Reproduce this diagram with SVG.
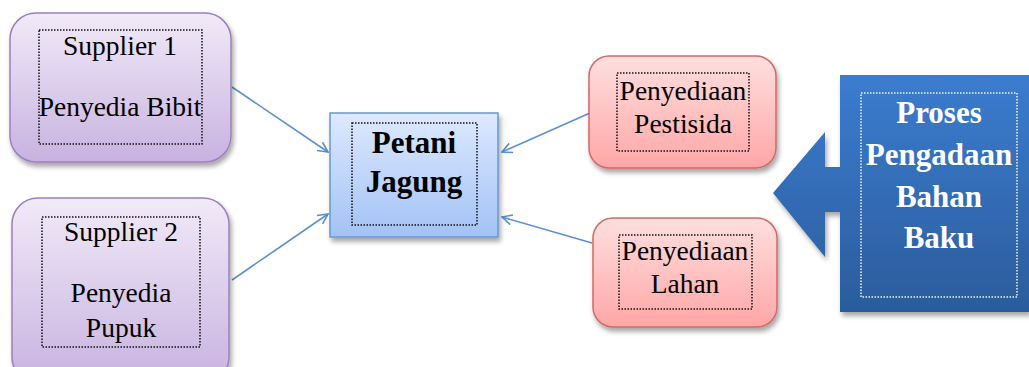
<svg xmlns="http://www.w3.org/2000/svg" width="1029" height="367" viewBox="0 0 1029 367">
<style>
.t{font-family:"Liberation Serif","Times New Roman",serif;font-size:27.5px;fill:#000;text-anchor:middle}
.b{font-family:"Liberation Serif","Times New Roman",serif;font-weight:bold;font-size:31px;text-anchor:middle}
.dot{fill:none;stroke:#111;stroke-width:1.5;stroke-dasharray:1.5 1.5}
.dotw{fill:none;stroke:#f4f4f4;stroke-width:1.5;stroke-dasharray:1.5 1.5}
.con{stroke:#5b8fd0;stroke-width:1.6;fill:none}
</style>
<defs>
<linearGradient id="gp" x1="0" y1="0" x2="0" y2="1"><stop offset="0" stop-color="#f1eaf8"/><stop offset="1" stop-color="#c8b2e0"/></linearGradient>
<linearGradient id="gb" x1="0" y1="0" x2="0" y2="1"><stop offset="0" stop-color="#dde9ff"/><stop offset="1" stop-color="#a3c2f5"/></linearGradient>
<linearGradient id="gr" x1="0" y1="0" x2="0" y2="1"><stop offset="0" stop-color="#ffdfdf"/><stop offset="1" stop-color="#ffa6a6"/></linearGradient>
<linearGradient id="gd" x1="0" y1="0" x2="0" y2="1"><stop offset="0" stop-color="#3b7ccf"/><stop offset="1" stop-color="#2b5c9c"/></linearGradient>
<filter id="sh" x="-10%" y="-10%" width="130%" height="130%"><feGaussianBlur in="SourceAlpha" stdDeviation="2.5"/><feOffset dx="2" dy="4"/><feComponentTransfer><feFuncA type="linear" slope="0.35"/></feComponentTransfer><feMerge><feMergeNode/><feMergeNode in="SourceGraphic"/></feMerge></filter>
<marker id="ah" viewBox="0 0 12 12" refX="11" refY="6" markerWidth="12" markerHeight="12" markerUnits="userSpaceOnUse" orient="auto"><path d="M1,1 L11,6 L1,11" fill="none" stroke="#5b8fd0" stroke-width="1.6"/></marker>
</defs>
<g id="connectors">
<line class="con" x1="232" y1="87" x2="328" y2="152" marker-end="url(#ah)"/>
<line class="con" x1="232" y1="280" x2="328" y2="214" marker-end="url(#ah)"/>
<line class="con" x1="590" y1="113" x2="502" y2="152" marker-end="url(#ah)"/>
<line class="con" x1="592" y1="243" x2="502" y2="217" marker-end="url(#ah)"/>
</g>
<g id="supplier1">
<rect x="10" y="13" width="221" height="149" rx="26" fill="url(#gp)" stroke="#9a80c0" stroke-width="1.5" filter="url(#sh)"/>
<rect class="dot" x="39" y="30" width="163" height="114"/>
<text class="t" x="120" y="55">Supplier 1</text>
<text class="t" x="120" y="116">Penyedia Bibit</text>
</g>
<g id="supplier2">
<rect x="12" y="198" width="217" height="185" rx="26" fill="url(#gp)" stroke="#9a80c0" stroke-width="1.5" filter="url(#sh)"/>
<rect class="dot" x="42" y="217" width="158" height="130"/>
<text class="t" x="121" y="241">Supplier 2</text>
<text class="t" x="121" y="302">Penyedia</text>
<text class="t" x="121" y="337">Pupuk</text>
</g>
<g id="petani">
<rect x="330" y="113" width="168" height="124" fill="url(#gb)" stroke="#6a96d0" stroke-width="1.5" filter="url(#sh)"/>
<rect class="dot" x="352" y="123" width="125" height="102"/>
<text class="b" x="414" y="153">Petani</text>
<text class="b" x="414" y="192">Jagung</text>
</g>
<g id="pestisida">
<rect x="589" y="56" width="187" height="112" rx="20" fill="url(#gr)" stroke="#d06a68" stroke-width="1.5" filter="url(#sh)"/>
<rect class="dot" x="617" y="73" width="132" height="78"/>
<text class="t" x="683" y="100">Penyediaan</text>
<text class="t" x="683" y="133">Pestisida</text>
</g>
<g id="lahan">
<rect x="593" y="218" width="184" height="109" rx="20" fill="url(#gr)" stroke="#d06a68" stroke-width="1.5" filter="url(#sh)"/>
<rect class="dot" x="619" y="235" width="133" height="74"/>
<text class="t" x="685" y="260">Penyediaan</text>
<text class="t" x="685" y="293">Lahan</text>
</g>
<g id="proses">
<path d="M840,75 L1029,75 L1029,312 L840,312 L840,212 L825,212 L825,257 L773,193 L825,132 L825,167 L840,167 Z" fill="url(#gd)" filter="url(#sh)"/>
<rect class="dotw" x="861" y="93" width="156" height="204"/>
<text class="b" x="939" y="123" fill="#fff">Proses</text>
<text class="b" x="939" y="165" fill="#fff">Pengadaan</text>
<text class="b" x="939" y="207" fill="#fff">Bahan</text>
<text class="b" x="939" y="248" fill="#fff">Baku</text>
</g>
</svg>
